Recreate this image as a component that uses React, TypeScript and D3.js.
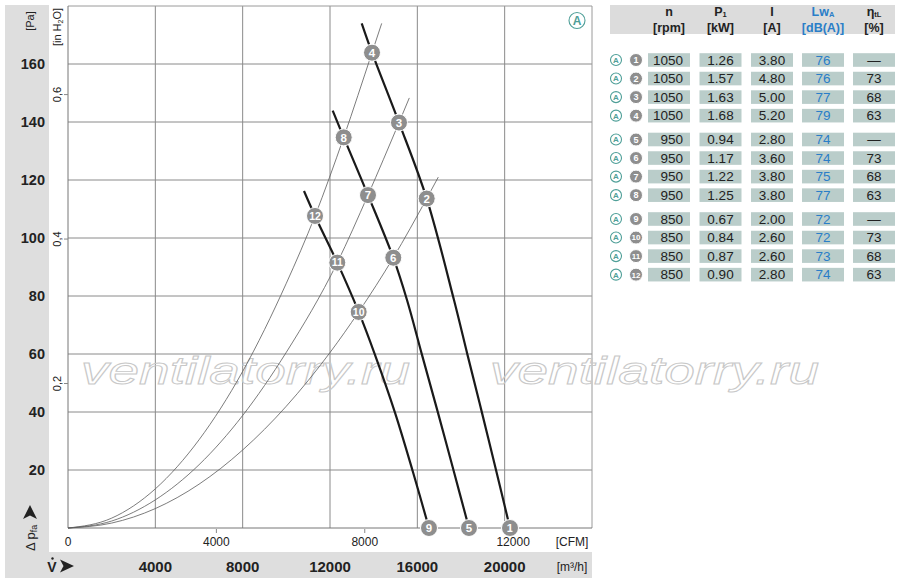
import * as d3 from "d3";

const NARROW = "'Liberation Sans Narrow', 'Liberation Sans', Arial, sans-serif";
const TEAL = "#4f9f98";
const BLUE = "#2a7ec8";

// axis ticks
const flowTicks = [4000, 8000, 12000, 16000, 20000];
const cfmTicks = [0, 4000, 8000, 12000];
const paTicks = [20, 40, 60, 80, 100, 120, 140, 160];
const inH2OTicks = [0.2, 0.4, 0.6];

// fan curves [m³/h, Pa]
const fan1050: [number, number][] = [
  [13452, 174], [13924, 163.9], [15160, 139.8], [16429, 113.6], [17679, 78.6],
  [18298, 59.7], [18962, 39.7], [19626, 19.3], [20244, 0],
];
const fan950: [number, number][] = [
  [12124, 143.9], [12628, 134.7], [13740, 114.8], [14899, 93.2], [15527, 78.6],
  [16214, 59.7], [16947, 39.7], [17679, 19.3], [18366, 0],
];
const fan850: [number, number][] = [
  [10809, 116.2], [11313, 107.6], [12334, 91.5], [13314, 74.5], [14061, 59.7],
  [14980, 39.7], [15800, 19.3], [16534, 0],
];

// system curves
const systemA: [number, number][] = [
  [0, 0], [2000, 3.4], [4000, 13.5], [6000, 30.4], [8000, 54], [10000, 84.4],
  [11313, 107.6], [12628, 134.7], [13924, 163.9], [14368, 174],
];
const systemB: [number, number][] = [
  [0, 0], [2000, 2.4], [4000, 9.7], [6000, 21.8], [8000, 38.8], [10000, 60.6],
  [12334, 91.5], [13740, 114.8], [15160, 139.8], [15632, 148.3],
];
const systemC: [number, number][] = [
  [0, 0], [2000, 1.7], [4000, 6.7], [6000, 15.1], [8000, 26.9], [10000, 42],
  [12000, 60.5], [13314, 74.5], [14899, 93.2], [16429, 113.6], [16960, 121],
];

// operating points
const pointIds = [1, 2, 3, 4, 5, 6, 7, 8, 9, 10, 11, 12];
const pointFlow = [20244, 16429, 15160, 13924, 18366, 14899, 13740, 12628, 16534, 13314, 12334, 11313];
const pointPressure = [0, 113.6, 139.8, 163.9, 0, 93.2, 114.8, 134.7, 0, 74.5, 91.5, 107.6];

// table
const rpm = [1050, 1050, 1050, 1050, 950, 950, 950, 950, 850, 850, 850, 850];
const power = ["1.26", "1.57", "1.63", "1.68", "0.94", "1.17", "1.22", "1.25", "0.67", "0.84", "0.87", "0.90"];
const current = ["3.80", "4.80", "5.00", "5.20", "2.80", "3.60", "3.80", "3.80", "2.00", "2.60", "2.60", "2.80"];
const soundLw = [76, 76, 77, 79, 74, 74, 75, 77, 72, 72, 73, 74];
const efficiency = ["—", "73", "68", "63", "—", "73", "68", "63", "—", "73", "68", "63"];

function CircleA({ cx, cy, r, size }: { cx: number; cy: number; r: number; size: number }) {
  return (
    <g>
      <circle cx={cx} cy={cy} r={r} fill="#fff" stroke={TEAL} strokeWidth={1.1} />
      <text x={cx} y={cy + size * 0.36} textAnchor="middle" fontSize={size} fontFamily={NARROW} fontWeight="bold" fill={TEAL}>
        A
      </text>
    </g>
  );
}

function Marker({ cx, cy, r, label, size }: { cx: number; cy: number; r: number; label: number; size: number }) {
  return (
    <g>
      <circle cx={cx} cy={cy} r={r} fill="#8e8e8e" stroke="#fff" strokeWidth={1} />
      <text x={cx} y={cy + size * 0.36} textAnchor="middle" fontSize={size} fontFamily={NARROW} fontWeight="bold" fill="#fff">
        {label}
      </text>
    </g>
  );
}

export default function App() {
  const x = d3.scaleLinear().domain([0, 24000]).range([68, 592]);
  const xCfm = d3.scaleLinear().domain([0, 24000 / 1.699]).range([68, 592]);
  const y = d3.scaleLinear().domain([0, 180]).range([528, 6]);
  const yIn = d3.scaleLinear().domain([0, 180 / 249.09]).range([528, 6]);

  const sysLine = d3
    .line<[number, number]>()
    .x((d) => x(d[0]))
    .y((d) => y(d[1]))
    .curve(d3.curveMonotoneX);
  const fanLine = d3
    .line<[number, number]>()
    .x((d) => x(d[0]))
    .y((d) => y(d[1]))
    .curve(d3.curveCatmullRom.alpha(0.5));

  const rowY = (i: number) => 60 + i * 18.55 + Math.floor(i / 4) * 5.3;
  const colX = [648, 699.5, 751, 802, 853];
  const cellW = 42;

  return (
    <svg width={900} height={587} style={{ position: "absolute", left: 0, top: 0, background: "#fff" }} fontFamily={NARROW}>
      {/* grey bands */}
      <rect x={5} y={5} width={44} height={573} fill="#dedede" />
      <rect x={5} y={552} width={587} height={26} fill="#dedede" />

      {/* grid */}
      {flowTicks.map((t) => (
        <line key={t} x1={x(t)} x2={x(t)} y1={y(180)} y2={y(0)} stroke="#8a8a8a" strokeWidth={1} />
      ))}
      {paTicks.map((t) => (
        <line key={t} x1={x(0)} x2={x(24000)} y1={y(t)} y2={y(t)} stroke="#8a8a8a" strokeWidth={1} />
      ))}
      <line x1={x(0)} x2={x(24000)} y1={y(180)} y2={y(180)} stroke="#9a9a9a" />
      <line x1={x(24000)} x2={x(24000)} y1={y(180)} y2={y(0)} stroke="#9a9a9a" />
      <line x1={x(0)} x2={x(0)} y1={y(180)} y2={y(0)} stroke="#777" />
      <line x1={x(0)} x2={x(24000)} y1={y(0)} y2={y(0)} stroke="#777" />

      {/* watermark */}
      {[81, 490].map((wx) => (
        <text
          key={wx}
          x={wx}
          y={384}
          fontSize={38}
          fontStyle="italic"
          fontFamily="'Liberation Sans', Arial, sans-serif"
          textLength={329}
          lengthAdjust="spacingAndGlyphs"
          fill="none"
          stroke="#c8c8c8"
          strokeWidth={0.9}
        >
          ventilatorry.ru
        </text>
      ))}

      {/* system curves */}
      {[systemA, systemB, systemC].map((s, i) => (
        <path key={i} d={sysLine(s) ?? ""} fill="none" stroke="#5a5a5a" strokeWidth={0.8} />
      ))}
      {/* fan curves */}
      {[fan1050, fan950, fan850].map((s, i) => (
        <path key={i} d={fanLine(s) ?? ""} fill="none" stroke="#1a1a1a" strokeWidth={2.2} />
      ))}

      {/* operating points */}
      {pointIds.map((id, i) => (
        <Marker key={id} cx={x(pointFlow[i])} cy={y(pointPressure[i])} r={8.5} label={id} size={id > 9 ? 10.5 : 11.5} />
      ))}

      <CircleA cx={577} cy={20.5} r={8} size={12} />

      {/* Pa axis */}
      {paTicks.map((t) => (
        <text key={t} x={45} y={y(t) + 5} textAnchor="end" fontSize={14.5} fontWeight="bold" fill="#222">
          {t}
        </text>
      ))}
      <text transform="translate(34,21) rotate(-90)" textAnchor="middle" fontSize={11} fill="#222">
        [Pa]
      </text>

      {/* in H2O axis */}
      {inH2OTicks.map((t) => (
        <g key={t}>
          <line x1={64} x2={68} y1={yIn(t)} y2={yIn(t)} stroke="#888" />
          <text transform={`translate(61,${yIn(t)}) rotate(-90)`} textAnchor="middle" fontSize={11} fill="#222">
            {String(t).replace(".", ",")}
          </text>
        </g>
      ))}
      <text transform="translate(61,27) rotate(-90)" textAnchor="middle" fontSize={11} fill="#222">
        [in H<tspan fontSize={7} dy={2}>2</tspan>
        <tspan dy={-2}>O]</tspan>
      </text>

      {/* Δ p_fa */}
      <text transform="translate(35,551) rotate(-90)" fontSize={13} fill="#222">
        Δ p<tspan fontSize={9} dy={2}>fa</tspan>
      </text>
      <path d="M30,505 L37,519 L30,515.5 L23,519 Z" fill="#222" />

      {/* CFM axis */}
      {cfmTicks.map((t) => (
        <g key={t}>
          {t > 0 && <line x1={xCfm(t)} x2={xCfm(t)} y1={529} y2={533} stroke="#888" />}
          <text x={xCfm(t)} y={546} textAnchor="middle" fontSize={12} fill="#222">
            {t}
          </text>
        </g>
      ))}
      <text x={572} y={546} textAnchor="middle" fontSize={12} fill="#222">
        [CFM]
      </text>

      {/* m³/h axis */}
      {flowTicks.map((t) => (
        <text key={t} x={x(t)} y={571.5} textAnchor="middle" fontSize={15} fontWeight="bold" fill="#222">
          {t}
        </text>
      ))}
      <text x={572} y={570.5} textAnchor="middle" fontSize={12} fill="#222">
        [m³/h]
      </text>
      <text x={52} y={571.5} textAnchor="middle" fontSize={14} fontWeight="bold" fill="#222">
        V
      </text>
      <circle cx={52.5} cy={558.5} r={1.2} fill="#222" />
      <path d="M74,566 L60,559.5 L63.5,566 L60,572.5 Z" fill="#222" />

      {/* table header */}
      <rect x={610} y={5} width={285} height={29} fill="#dcdcdc" />
      {[
        { cx: 669, top: "n", bottom: "[rpm]", color: "#222" },
        { cx: 720.5, top: "P", sub: "1", bottom: "[kW]", color: "#222" },
        { cx: 772, top: "I", bottom: "[A]", color: "#222" },
        { cx: 823, top: "Lw", sub: "A", bottom: "[dB(A)]", color: BLUE },
        { cx: 874, top: "η", sub: "tL", bottom: "[%]", color: "#222" },
      ].map((h) => (
        <g key={h.bottom} fill={h.color} fontSize={12.5} fontWeight="bold">
          <text x={h.cx} y={15.5} textAnchor="middle">
            {h.top}
            {h.sub && (
              <tspan fontSize={7.5} dy={1.5}>
                {h.sub}
              </tspan>
            )}
          </text>
          <text x={h.cx} y={31.5} textAnchor="middle">
            {h.bottom}
          </text>
        </g>
      ))}

      {/* table rows */}
      {rpm.map((n, i) => {
        const cy = rowY(i);
        const values = [String(n), power[i], current[i], String(soundLw[i]), efficiency[i]];
        return (
          <g key={i}>
            <CircleA cx={616} cy={cy} r={5.5} size={8} />
            <Marker cx={636} cy={cy} r={6.5} label={pointIds[i]} size={i >= 9 ? 8 : 9} />
            {values.map((v, j) => (
              <g key={j}>
                <rect x={colX[j]} y={cy - 6.8} width={cellW} height={13.6} fill="#bacdca" />
                <text
                  x={j === 0 ? colX[j] + 35 : colX[j] + cellW / 2}
                  y={cy + 4.8}
                  textAnchor={j === 0 ? "end" : "middle"}
                  fontSize={13.5}
                  fill={j === 3 ? BLUE : "#222"}
                >
                  {v}
                </text>
              </g>
            ))}
          </g>
        );
      })}
    </svg>
  );
}
